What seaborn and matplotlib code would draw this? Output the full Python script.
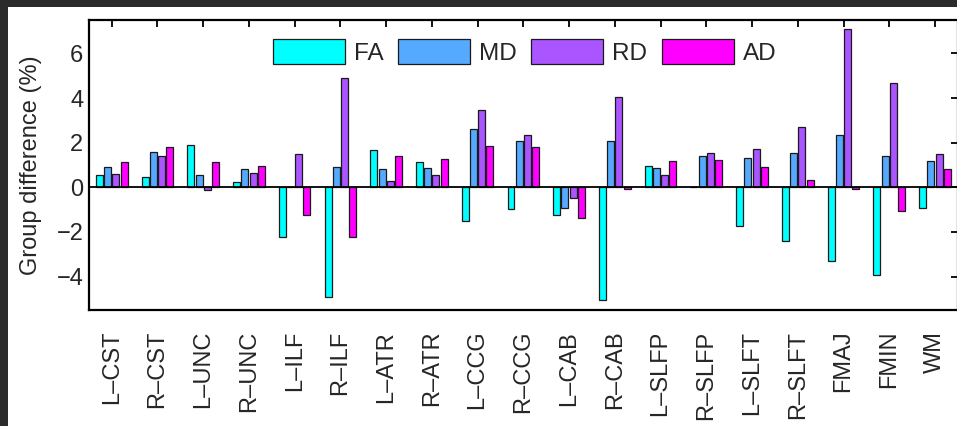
import numpy as np
import pandas as pd
import matplotlib
matplotlib.use("Agg")
import matplotlib.pyplot as plt
from matplotlib.patches import Patch, Rectangle
import seaborn as sns

# ---- data ----
tracts = ["L–CST", "R–CST", "L–UNC", "R–UNC", "L–ILF", "R–ILF", "L–ATR", "R–ATR",
          "L–CCG", "R–CCG", "L–CAB", "R–CAB", "L–SLFP", "R–SLFP", "L–SLFT", "R–SLFT",
          "FMAJ", "FMIN", "WM"]
fa = [0.54, 0.46, 1.88, 0.24, -2.22, -4.93, 1.67, 1.12, -1.51, -0.97,
      -1.24, -5.07, 0.97, 0.00, -1.73, -2.40, -3.31, -3.91, -0.93]
md = [0.93, 1.60, 0.54, 0.81, 0.00, 0.93, 0.81, 0.88, 2.61, 2.06,
      -0.91, 2.06, 0.87, 1.39, 1.33, 1.55, 2.36, 1.39, 1.16]
rd = [0.61, 1.39, -0.10, 0.64, 1.48, 4.90, 0.27, 0.55, 3.45, 2.34,
      -0.49, 4.07, 0.55, 1.52, 1.73, 2.72, 7.09, 4.69, 1.49]
ad = [1.15, 1.81, 1.15, 0.97, -1.25, -2.21, 1.42, 1.25, 1.87, 1.81,
      -1.37, -0.08, 1.19, 1.22, 0.93, 0.33, -0.09, -1.04, 0.82]
measures = ["FA", "MD", "RD", "AD"]
colors = ["#00FFFF", "#55AAFF", "#AA55FF", "#FF00FF"]   # matlab 'cool'

df = pd.DataFrame({
    "tract": tracts * 4,
    "measure": np.repeat(measures, len(tracts)),
    "value": fa + md + rd + ad,
})

sns.set_style("white")
plt.rcParams["font.family"] = ["Liberation Sans", "DejaVu Sans"]

fig = plt.figure(figsize=(9.57, 4.26), dpi=100)
fig.patch.set_facecolor("#2b2b2b")
# white canvas, the screenshot crops the dark frame at right/bottom
fig.add_artist(Rectangle((8 / 957, 0), 1, (426 - 7) / 426, transform=fig.transFigure,
                         facecolor="white", edgecolor="none", zorder=-10))

ax = fig.add_axes([88.8 / 957, 116 / 426, 869.1 / 957, 290 / 426])
sns.barplot(data=df, x="tract", y="value", hue="measure", hue_order=measures,
            palette=colors, saturation=1, width=0.72, gap=0.15, errorbar=None,
            edgecolor="#1a1a1a", linewidth=0.9, legend=False, ax=ax, zorder=2)

ax.axhline(0, color="black", lw=1.3, zorder=3)
ax.set_xlim(-0.5, len(tracts) - 0.5)
ax.set_ylim(-5.5, 7.5)
ax.set_yticks([-4, -2, 0, 2, 4, 6])
ax.set_xlabel("")
ax.set_ylabel("Group difference (%)", fontsize=17, labelpad=10)

ax.tick_params(axis="both", direction="in", length=5, width=1.3, color="black",
               top=True, right=True, labelsize=17)
ax.tick_params(axis="y", pad=4)
ax.tick_params(axis="x", pad=15, labelrotation=90)
for s in ax.spines.values():
    s.set_visible(True)
    s.set_color("black")
    s.set_linewidth(1.6)

handles = [Patch(facecolor=c, edgecolor="#1a1a1a", linewidth=0.9) for c in colors]
ax.legend(handles, measures, loc="upper left", bbox_to_anchor=(0.212, 0.935),
          ncol=4, frameon=False, fontsize=17.5, borderpad=0, borderaxespad=0,
          handlelength=2.96, handleheight=1.2, handletextpad=0.37, columnspacing=0.6)

fig.savefig("out.png", dpi=100, facecolor=fig.get_facecolor())
